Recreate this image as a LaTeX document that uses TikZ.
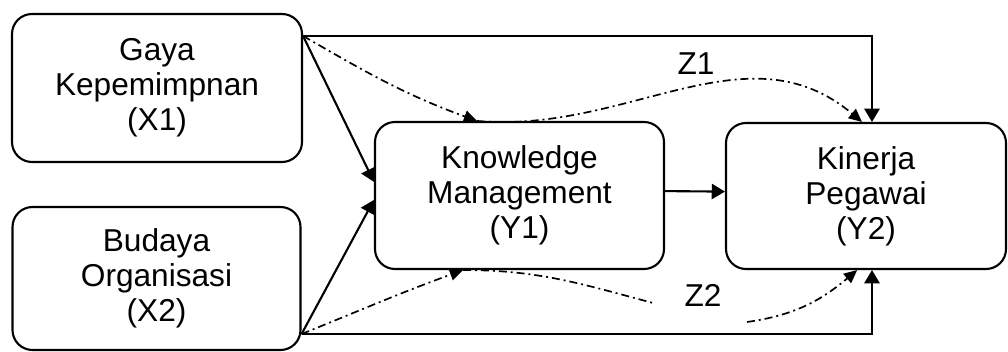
\documentclass[tikz,border=0pt]{standalone}
\usepackage{fontspec}
\setmainfont{Liberation Sans}
\usetikzlibrary{arrows.meta}
\tikzset{
  box/.style={draw, rounded corners=0.5cm, line width=1.5pt, inner sep=0pt, align=center,
    font=\fontsize{22.5}{25}\selectfont},
  arrow/.style={line width=1.5pt, -{Triangle[length=0.33cm,width=0.38cm]}},
  zarrow/.style={line width=1.2pt, dash pattern=on 5.7pt off 2.8pt on 1.4pt off 2.8pt,
    -{Triangle[length=0.33cm,width=0.3cm]}},
  zline/.style={line width=1.2pt, dash pattern=on 5.7pt off 2.8pt on 1.4pt off 2.8pt},
  zlabel/.style={font=\fontsize{22.5}{25}\selectfont, inner sep=0pt}
}
\begin{document}
\begin{tikzpicture}
\useasboundingbox (0,0) rectangle (25.2,8.775);
\node[box, minimum width=7.25cm, minimum height=3.7cm] (x1) at (3.925,6.575) {Gaya\\Kepemimpnan\\(X1)};
\node[box, minimum width=7.2cm, minimum height=3.575cm] (x2) at (3.9125,1.8125) {Budaya\\Organisasi\\(X2)};
\node[box, minimum width=7.225cm, minimum height=3.675cm] (y1) at (12.9875,3.8875) {Knowledge\\Management\\(Y1)};
\node[box, minimum width=7cm, minimum height=3.65cm] (y2) at (21.65,3.875) {Kinerja\\Pegawai\\(Y2)};
\coordinate (x1c) at ([yshift=-0.575cm]x1.north east);
\coordinate (x2c) at ([yshift=0.425cm]x2.south east);
\coordinate (z1a) at ([xshift=-1.06cm]y1.north);
\coordinate (z1b) at ([xshift=-0.1cm]y2.north);
\coordinate (z2a) at ([xshift=-1.41cm]y1.south);
\coordinate (z2b) at ([xshift=-0.22cm]y2.south);
\coordinate (z2end) at (16.325,1.2);
\coordinate (z2beg) at (18.675,0.725);
\node[zlabel] (z1) at (17.4,7.175) {Z1};
\node[zlabel] (z2) at (17.575,1.4) {Z2};
% direct paths
\draw[arrow] (x1c) -- ([yshift=0.34cm]y1.west);
\draw[arrow] (x2c) -- ([yshift=-0.11cm]y1.west);
\draw[arrow] ([yshift=0.11cm]y1.east) -- ([yshift=0.11cm]y2.west);
\draw[arrow] (x1c) -| ([xshift=0.15cm]y2.north);
\draw[arrow] (x2c) -| ([xshift=0.15cm]y2.south);
% mediated paths
\draw[zarrow] (x1c) to[out=-30,in=160] (z1a);
\draw[zarrow] (z1a) to[out=-5,in=140] (z1b);
\draw[zarrow] (x2c) to[out=22,in=-160] (z2a);
\draw[zline] (z2a) to[out=0,in=165] (z2end);
\draw[zarrow] (z2beg) to[out=8,in=-140] (z2b);
\end{tikzpicture}
\end{document}
